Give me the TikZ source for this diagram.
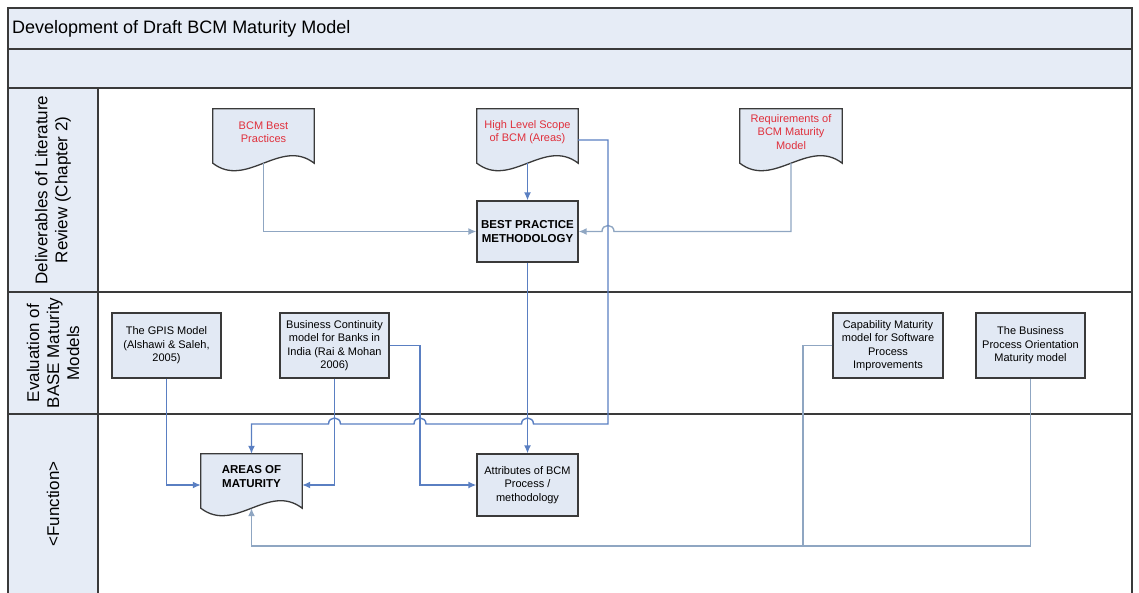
\documentclass[tikz,border=0pt]{standalone}
\usepackage{fontspec}
\setmainfont{Liberation Sans}
\usetikzlibrary{arrows.meta,calc}
\pgfdeclarelayer{background}
\pgfsetlayers{background,main}

\definecolor{frameLine}{HTML}{3A3A3A}
\definecolor{paneFill}{HTML}{E6ECF6}
\definecolor{boxFill}{HTML}{E2E9F4}
\definecolor{flowBlue}{HTML}{5A7FC2}
\definecolor{flowGrey}{HTML}{8FA6C2}
\definecolor{docRed}{HTML}{E0303C}

% document outline: flat top, wavy bottom below the node's text area
\newcommand\docoutline[1]{%
  \begin{pgfonlayer}{background}
    \filldraw[docedge] (#1.north west) -- (#1.north east)
      -- ([yshift=-8pt]#1.south east)
      .. controls +(-33.7pt,26pt) and +(33.7pt,-26pt) .. ([yshift=-8pt]#1.south west)
      -- cycle;
  \end{pgfonlayer}}

\begin{document}
\begin{tikzpicture}[x=1pt,y=-1pt,
  frameline/.style={draw=frameLine,line width=1.4pt},
  docedge/.style={draw=frameLine,line width=1.3pt,fill=boxFill},
  procbox/.style={draw=frameLine,line width=1.3pt,fill=boxFill,align=center,
    inner sep=0pt,font=\fontsize{11}{13.5}\selectfont},
  docnode/.style={align=center,inner sep=0pt,minimum width=101pt,minimum height=46pt,
    font=\fontsize{11}{13.5}\selectfont},
  lanelabel/.style={rotate=90,align=center,font=\fontsize{17}{20}\selectfont},
  flow/.style={line width=1.4pt,-{Latex[length=8pt,width=7pt]}},
  plain/.style={line width=1.4pt}]

\useasboundingbox (0,0) rectangle (1139,592);
\clip (0,0) rectangle (1139,592);

% ---- pool frame ----
\fill[paneFill] (8,8) rectangle (1132,88);
\fill[paneFill] (8,88) rectangle (98,600);
\draw[frameline] (8,600) -- (8,8) -- (1132,8) -- (1132,600);
\draw[frameline] (8,49) -- (1132,49);
\draw[frameline] (8,88) -- (1132,88);
\draw[frameline] (8,292) -- (1132,292);
\draw[frameline] (8,414) -- (1132,414);
\draw[frameline] (98,88) -- (98,600);

\node[anchor=west,font=\fontsize{18}{21}\selectfont,inner sep=0pt] (title) at (12,28.5)
  {Development of Draft BCM Maturity Model};

\node[lanelabel] (laneA) at (53,190) {Deliverables of Literature\\Review (Chapter 2)};
\node[lanelabel] (laneB) at (53,353) {Evaluation of\\BASE Maturity\\Models};
\node[lanelabel] (laneC) at (53,504) {<Function>};

% ---- literature deliverables ----
\node[docnode,text=docRed] (bcmbp) at (263.5,132) {BCM Best\\Practices};
\node[docnode,text=docRed] (hls) at (527.5,132) {High Level Scope\\of BCM (Areas)};
\node[docnode,text=docRed,minimum width=102pt] (req) at (791,132) {Requirements of\\BCM Maturity\\Model};
\docoutline{bcmbp}
\docoutline{hls}
\docoutline{req}

\node[procbox,minimum width=101pt,minimum height=61pt,font=\fontsize{11.5}{14}\bfseries] (bpm)
  at (527.5,231.5) {BEST PRACTICE\\METHODOLOGY};

% ---- base maturity models ----
\node[procbox,minimum width=109pt,minimum height=65pt] (gpis) at (166.5,345.5)
  {The GPIS Model\\(Alshawi \& Saleh,\\2005)};
\node[procbox,minimum width=109pt,minimum height=65pt] (bc) at (334.5,345.5)
  {Business Continuity\\model for Banks in\\India (Rai \& Mohan\\2006)};
\node[procbox,minimum width=110pt,minimum height=65pt] (cmm) at (888,345.5)
  {Capability Maturity\\model for Software\\Process\\Improvements};
\node[procbox,minimum width=109pt,minimum height=65pt] (bpo) at (1030.5,345.5)
  {The Business\\Process Orientation\\Maturity model};

% ---- function lane ----
\node[docnode,font=\fontsize{11.5}{14}\bfseries] (areas) at (251.5,477) {AREAS OF\\MATURITY};
\docoutline{areas}
\node[procbox,minimum width=101pt,minimum height=62pt] (attr) at (527.5,485)
  {Attributes of BCM\\Process /\\methodology};

% ---- connectors ----
\draw[flow,flowGrey] ([yshift=-8pt]bcmbp.south) |- (bpm.west);
\draw[flow,flowBlue] ([yshift=-8pt]hls.south) -- (bpm.north);
\draw[flow,flowGrey] ([yshift=-8pt]req.south) -- (791,231.5) -- (614,231.5)
  .. controls (614,223.5) and (602,223.5) .. (602,231.5) -- (bpm.east);
\draw[flow,flowBlue] ([yshift=-8pt]hls.east) -- (608,140) -- (608,424) -- (533.5,424)
  .. controls (533.5,416) and (521.5,416) .. (521.5,424) -- (426,424)
  .. controls (426,416) and (414,416) .. (414,424) -- (340.5,424)
  .. controls (340.5,416) and (328.5,416) .. (328.5,424) -- (251.5,424) -- (areas.north);
\draw[flow,flowBlue] (bpm.south) -- (attr.north);
\draw[flow,flowBlue] (gpis.south) |- ([yshift=-8pt]areas.west);
\draw[flow,flowBlue] (bc.south) |- ([yshift=-8pt]areas.east);
\draw[flow,flowBlue] (bc.east) -- (420,345.5) |- (attr.west);
\coordinate (merge) at (803,546);
\draw[flow,flowGrey] (cmm.west) -- (803,345.5) -- (merge) -- (251.5,546) -- ([yshift=-8pt]areas.south);
\draw[plain,flowGrey] (bpo.south) |- (merge);

\end{tikzpicture}
\end{document}
